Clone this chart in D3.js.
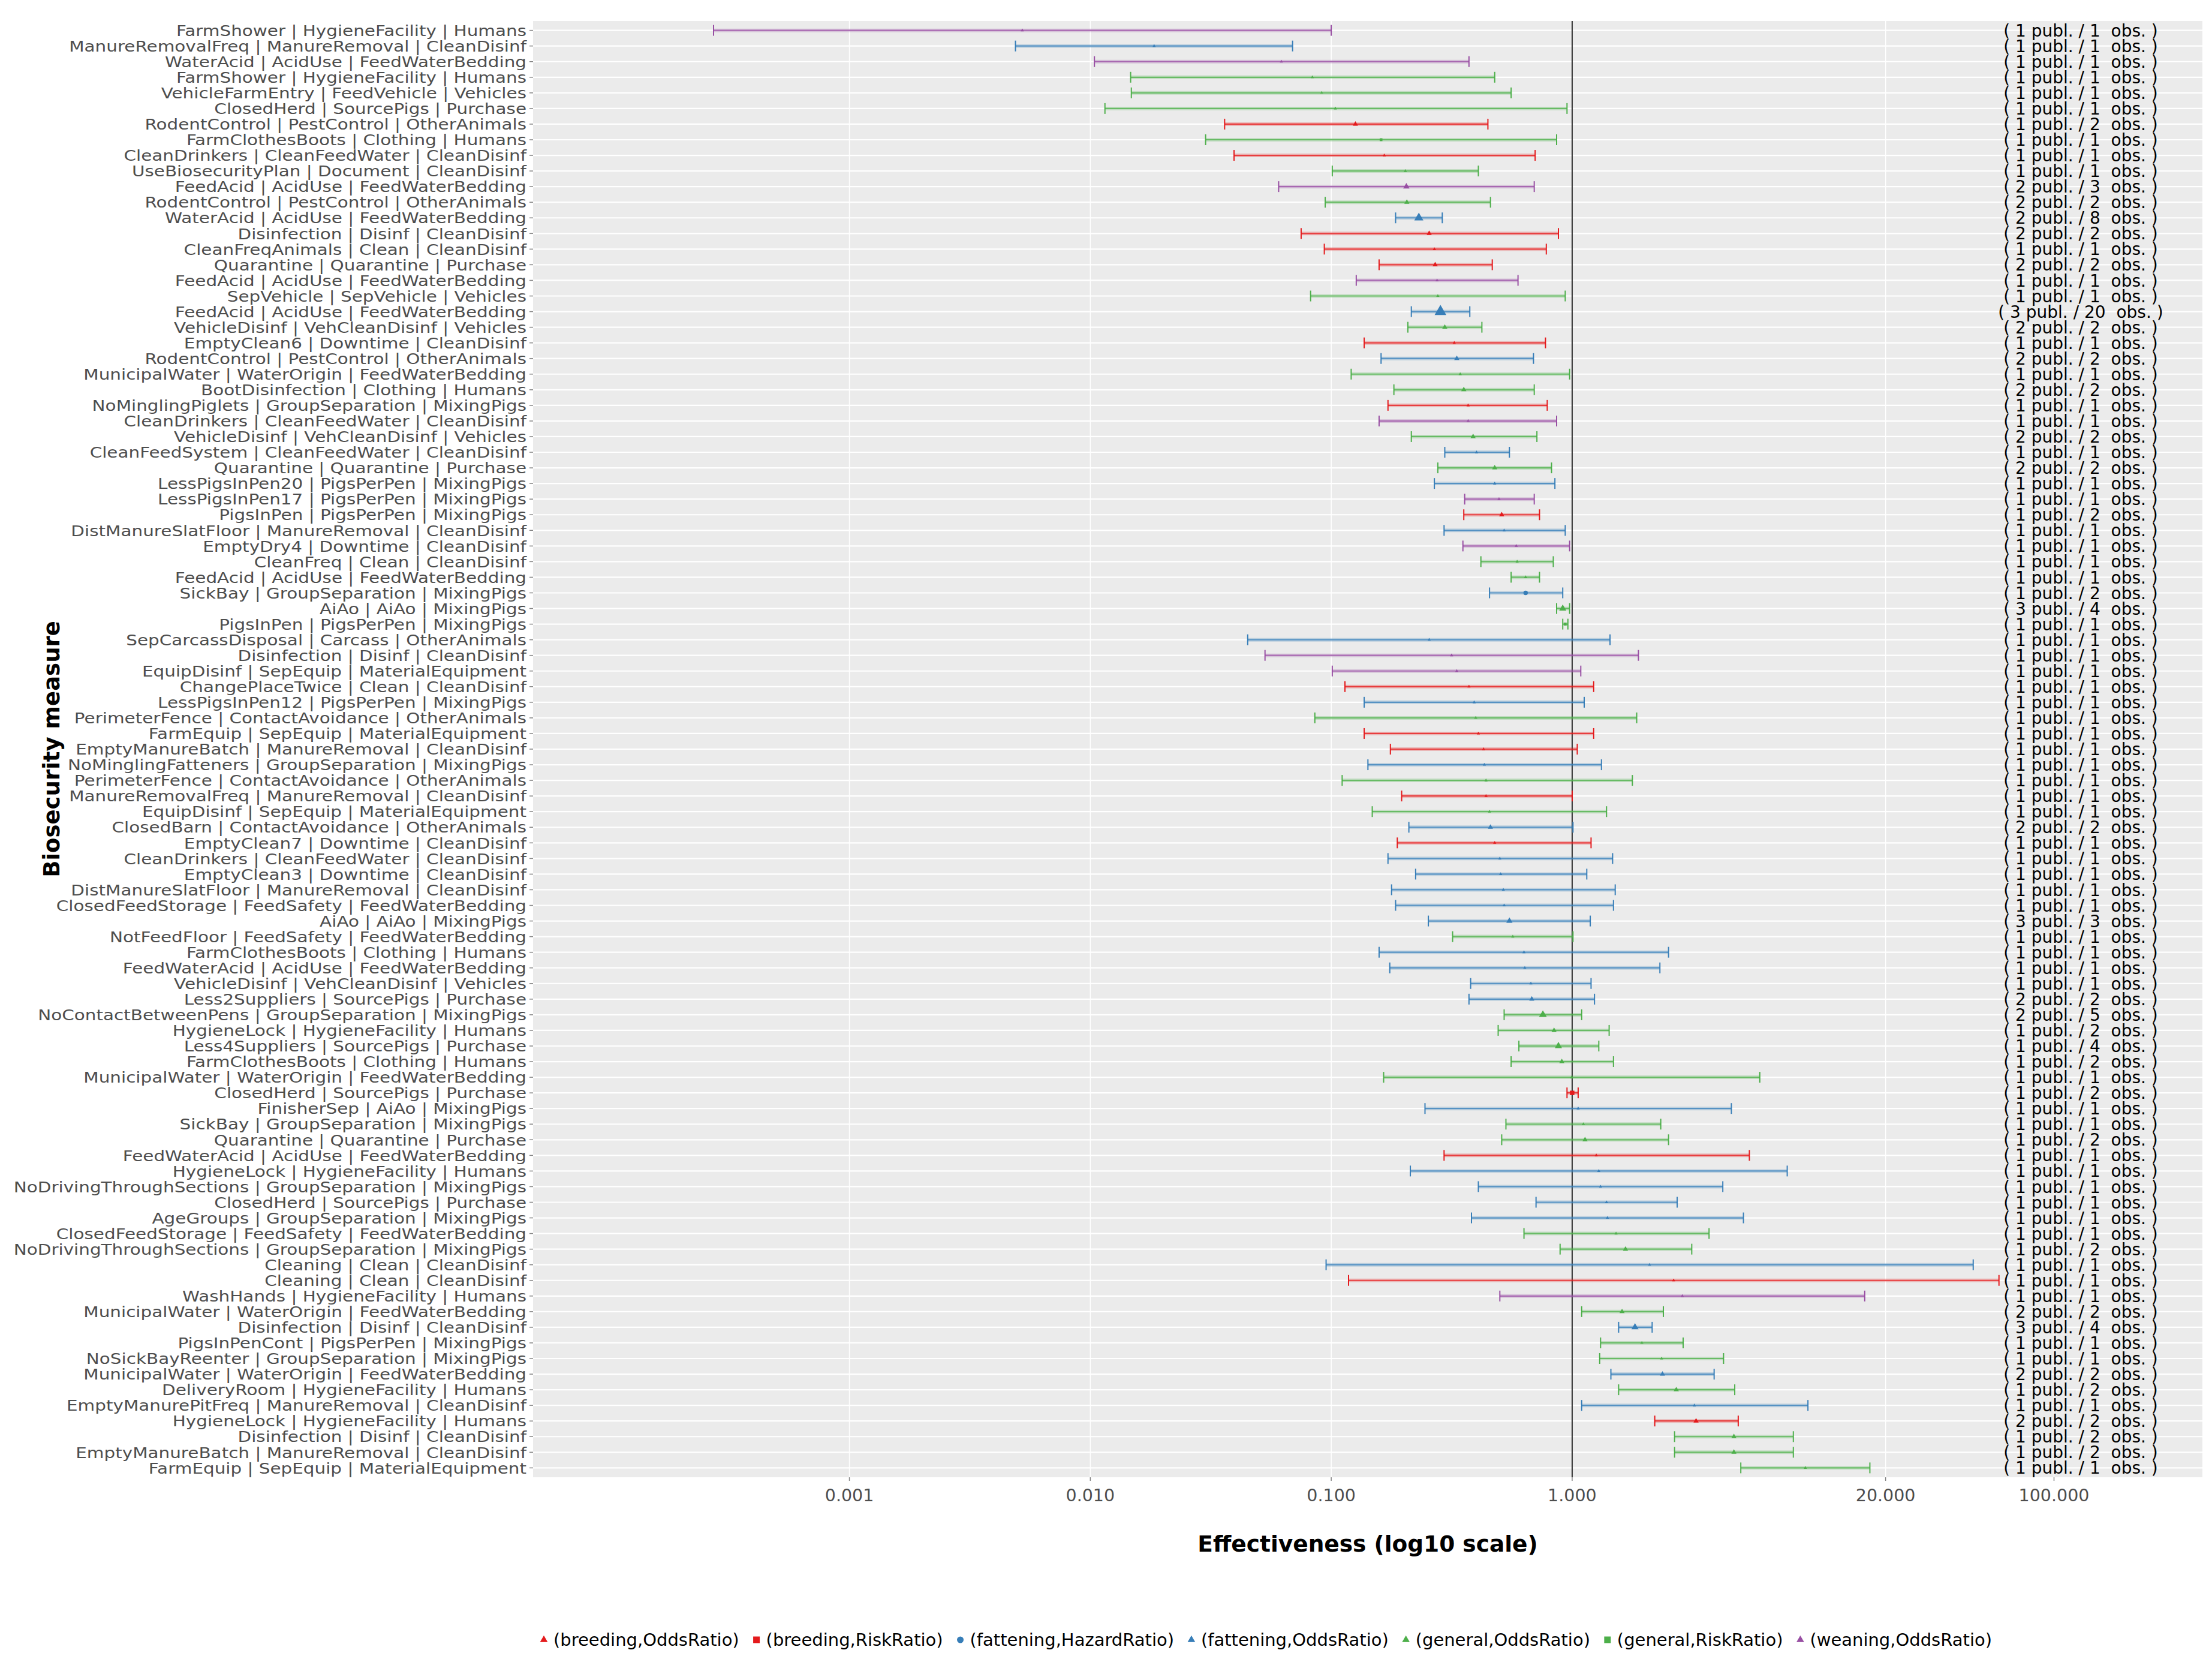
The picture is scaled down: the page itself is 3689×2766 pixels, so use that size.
<!DOCTYPE html>
<html>
<head>
<meta charset="utf-8">
<script src="https://cdn.jsdelivr.net/npm/d3@7"></script>
<style>
	body { margin: 0; background: #ffffff; }
	svg text { font-family: "DejaVu Sans", sans-serif; }
</style>
</head>
<body>
<div id="forestDiv"></div>
<script>

// rows, top to bottom
const measures = [
	"FarmShower | HygieneFacility | Humans",
	"ManureRemovalFreq | ManureRemoval | CleanDisinf",
	"WaterAcid | AcidUse | FeedWaterBedding",
	"FarmShower | HygieneFacility | Humans",
	"VehicleFarmEntry | FeedVehicle | Vehicles",
	"ClosedHerd | SourcePigs | Purchase",
	"RodentControl | PestControl | OtherAnimals",
	"FarmClothesBoots | Clothing | Humans",
	"CleanDrinkers | CleanFeedWater | CleanDisinf",
	"UseBiosecurityPlan | Document | CleanDisinf",
	"FeedAcid | AcidUse | FeedWaterBedding",
	"RodentControl | PestControl | OtherAnimals",
	"WaterAcid | AcidUse | FeedWaterBedding",
	"Disinfection | Disinf | CleanDisinf",
	"CleanFreqAnimals | Clean | CleanDisinf",
	"Quarantine | Quarantine | Purchase",
	"FeedAcid | AcidUse | FeedWaterBedding",
	"SepVehicle | SepVehicle | Vehicles",
	"FeedAcid | AcidUse | FeedWaterBedding",
	"VehicleDisinf | VehCleanDisinf | Vehicles",
	"EmptyClean6 | Downtime | CleanDisinf",
	"RodentControl | PestControl | OtherAnimals",
	"MunicipalWater | WaterOrigin | FeedWaterBedding",
	"BootDisinfection | Clothing | Humans",
	"NoMinglingPiglets | GroupSeparation | MixingPigs",
	"CleanDrinkers | CleanFeedWater | CleanDisinf",
	"VehicleDisinf | VehCleanDisinf | Vehicles",
	"CleanFeedSystem | CleanFeedWater | CleanDisinf",
	"Quarantine | Quarantine | Purchase",
	"LessPigsInPen20 | PigsPerPen | MixingPigs",
	"LessPigsInPen17 | PigsPerPen | MixingPigs",
	"PigsInPen | PigsPerPen | MixingPigs",
	"DistManureSlatFloor | ManureRemoval | CleanDisinf",
	"EmptyDry4 | Downtime | CleanDisinf",
	"CleanFreq | Clean | CleanDisinf",
	"FeedAcid | AcidUse | FeedWaterBedding",
	"SickBay | GroupSeparation | MixingPigs",
	"AiAo | AiAo | MixingPigs",
	"PigsInPen | PigsPerPen | MixingPigs",
	"SepCarcassDisposal | Carcass | OtherAnimals",
	"Disinfection | Disinf | CleanDisinf",
	"EquipDisinf | SepEquip | MaterialEquipment",
	"ChangePlaceTwice | Clean | CleanDisinf",
	"LessPigsInPen12 | PigsPerPen | MixingPigs",
	"PerimeterFence | ContactAvoidance | OtherAnimals",
	"FarmEquip | SepEquip | MaterialEquipment",
	"EmptyManureBatch | ManureRemoval | CleanDisinf",
	"NoMinglingFatteners | GroupSeparation | MixingPigs",
	"PerimeterFence | ContactAvoidance | OtherAnimals",
	"ManureRemovalFreq | ManureRemoval | CleanDisinf",
	"EquipDisinf | SepEquip | MaterialEquipment",
	"ClosedBarn | ContactAvoidance | OtherAnimals",
	"EmptyClean7 | Downtime | CleanDisinf",
	"CleanDrinkers | CleanFeedWater | CleanDisinf",
	"EmptyClean3 | Downtime | CleanDisinf",
	"DistManureSlatFloor | ManureRemoval | CleanDisinf",
	"ClosedFeedStorage | FeedSafety | FeedWaterBedding",
	"AiAo | AiAo | MixingPigs",
	"NotFeedFloor | FeedSafety | FeedWaterBedding",
	"FarmClothesBoots | Clothing | Humans",
	"FeedWaterAcid | AcidUse | FeedWaterBedding",
	"VehicleDisinf | VehCleanDisinf | Vehicles",
	"Less2Suppliers | SourcePigs | Purchase",
	"NoContactBetweenPens | GroupSeparation | MixingPigs",
	"HygieneLock | HygieneFacility | Humans",
	"Less4Suppliers | SourcePigs | Purchase",
	"FarmClothesBoots | Clothing | Humans",
	"MunicipalWater | WaterOrigin | FeedWaterBedding",
	"ClosedHerd | SourcePigs | Purchase",
	"FinisherSep | AiAo | MixingPigs",
	"SickBay | GroupSeparation | MixingPigs",
	"Quarantine | Quarantine | Purchase",
	"FeedWaterAcid | AcidUse | FeedWaterBedding",
	"HygieneLock | HygieneFacility | Humans",
	"NoDrivingThroughSections | GroupSeparation | MixingPigs",
	"ClosedHerd | SourcePigs | Purchase",
	"AgeGroups | GroupSeparation | MixingPigs",
	"ClosedFeedStorage | FeedSafety | FeedWaterBedding",
	"NoDrivingThroughSections | GroupSeparation | MixingPigs",
	"Cleaning | Clean | CleanDisinf",
	"Cleaning | Clean | CleanDisinf",
	"WashHands | HygieneFacility | Humans",
	"MunicipalWater | WaterOrigin | FeedWaterBedding",
	"Disinfection | Disinf | CleanDisinf",
	"PigsInPenCont | PigsPerPen | MixingPigs",
	"NoSickBayReenter | GroupSeparation | MixingPigs",
	"MunicipalWater | WaterOrigin | FeedWaterBedding",
	"DeliveryRoom | HygieneFacility | Humans",
	"EmptyManurePitFreq | ManureRemoval | CleanDisinf",
	"HygieneLock | HygieneFacility | Humans",
	"Disinfection | Disinf | CleanDisinf",
	"EmptyManureBatch | ManureRemoval | CleanDisinf",
	"FarmEquip | SepEquip | MaterialEquipment"
];

// (production stage, effect measure) of each row
const rowGroup = [
	"weaning,OddsRatio","fattening,OddsRatio","weaning,OddsRatio","general,OddsRatio","general,OddsRatio",
	"general,OddsRatio","breeding,OddsRatio","general,RiskRatio","breeding,OddsRatio","general,OddsRatio",
	"weaning,OddsRatio","general,OddsRatio","fattening,OddsRatio","breeding,OddsRatio","breeding,OddsRatio",
	"breeding,OddsRatio","weaning,OddsRatio","general,OddsRatio","fattening,OddsRatio","general,OddsRatio",
	"breeding,OddsRatio","fattening,OddsRatio","general,OddsRatio","general,OddsRatio","breeding,OddsRatio",
	"weaning,OddsRatio","general,OddsRatio","fattening,OddsRatio","general,OddsRatio","fattening,OddsRatio",
	"weaning,OddsRatio","breeding,OddsRatio","fattening,OddsRatio","weaning,OddsRatio","general,OddsRatio",
	"general,OddsRatio","fattening,HazardRatio","general,OddsRatio","general,RiskRatio","fattening,OddsRatio",
	"weaning,OddsRatio","weaning,OddsRatio","breeding,OddsRatio","fattening,OddsRatio","general,OddsRatio",
	"breeding,OddsRatio","breeding,OddsRatio","fattening,OddsRatio","general,OddsRatio","breeding,OddsRatio",
	"general,OddsRatio","fattening,OddsRatio","breeding,OddsRatio","fattening,OddsRatio","fattening,OddsRatio",
	"fattening,OddsRatio","fattening,OddsRatio","fattening,OddsRatio","general,OddsRatio","fattening,OddsRatio",
	"fattening,OddsRatio","fattening,OddsRatio","fattening,OddsRatio","general,OddsRatio","general,OddsRatio",
	"general,OddsRatio","general,OddsRatio","general,OddsRatio","breeding,RiskRatio","fattening,OddsRatio",
	"general,OddsRatio","general,OddsRatio","breeding,OddsRatio","fattening,OddsRatio","fattening,OddsRatio",
	"fattening,OddsRatio","fattening,OddsRatio","general,OddsRatio","general,OddsRatio","fattening,OddsRatio",
	"breeding,OddsRatio","weaning,OddsRatio","general,OddsRatio","fattening,OddsRatio","general,OddsRatio",
	"general,OddsRatio","fattening,OddsRatio","general,OddsRatio","fattening,OddsRatio","breeding,OddsRatio",
	"general,OddsRatio","general,OddsRatio","general,OddsRatio"
];

const lowerCI = [
	0.000273,0.00489,0.0104,0.0147,0.0148,0.0115,0.0361,0.0301,0.0395,0.101,
	0.0605,0.0944,0.185,0.0750,0.0936,0.158,0.127,0.0821,0.215,0.208,
	0.137,0.161,0.121,0.182,0.172,0.158,0.215,0.296,0.277,0.268,
	0.358,0.355,0.294,0.352,0.418,0.558,0.454,0.862,0.914,0.0450,
	0.0531,0.101,0.114,0.137,0.0855,0.137,0.176,0.142,0.111,0.196,
	0.148,0.210,0.188,0.172,0.224,0.178,0.185,0.253,0.319,0.158,
	0.175,0.379,0.373,0.522,0.493,0.601,0.558,0.165,0.952,0.245,
	0.531,0.510,0.294,0.213,0.408,0.708,0.382,0.631,0.891,0.0952,
	0.118,0.501,1.095,1.559,1.312,1.301,1.448,1.559,1.095,2.202,
	2.661,2.661,5.012
];

const estimates = [
	0.00522,0.0184,0.0621,0.0835,0.0913,0.104,0.126,0.161,0.166,0.203,
	0.205,0.206,0.231,0.255,0.268,0.270,0.275,0.277,0.284,0.296,
	0.324,0.332,0.343,0.355,0.370,0.370,0.388,0.401,0.477,0.477,
	0.497,0.510,0.522,0.586,0.591,0.641,0.641,0.914,0.936,0.255,
	0.316,0.332,0.373,0.392,0.398,0.408,0.429,0.432,0.439,0.439,
	0.454,0.458,0.477,0.501,0.505,0.518,0.522,0.549,0.567,0.631,
	0.636,0.674,0.680,0.756,0.841,0.877,0.906,0.995,1.00,1.059,
	1.113,1.131,1.259,1.290,1.312,1.389,1.401,1.521,1.665,2.096,
	2.638,2.865,1.611,1.823,1.947,2.352,2.371,2.705,3.215,3.268,
	4.692,4.692,9.288
];

const upperCI = [
	0.100,0.0691,0.373,0.477,0.558,0.952,0.447,0.862,0.702,0.408,
	0.696,0.458,0.289,0.877,0.781,0.466,0.596,0.936,0.376,0.422,
	0.775,0.691,0.976,0.696,0.788,0.862,0.714,0.549,0.821,0.848,
	0.696,0.732,0.936,0.976,0.835,0.732,0.914,0.976,0.960,1.436,
	1.884,1.086,1.228,1.122,1.853,1.228,1.050,1.323,1.778,1.000,
	1.389,1.008,1.198,1.472,1.150,1.509,1.484,1.189,1.008,2.512,
	2.313,1.198,1.238,1.095,1.424,1.290,1.484,6.01,1.059,4.58,
	2.332,2.512,5.44,7.81,4.22,2.728,5.14,3.70,3.136,46.2,
	59.1,16.38,2.391,2.148,2.888,4.25,3.884,4.73,9.52,4.89,
	8.28,8.28,17.21
];

const nPubl = [
	1,1,1,1,1,1,1,1,1,1, 2,2,2,2,1,2,1,1,3,2,
	1,2,1,2,1,1,2,1,2,1, 1,1,1,1,1,1,1,3,1,1,
	1,1,1,1,1,1,1,1,1,1, 1,2,1,1,1,1,1,3,1,1,
	1,1,2,2,1,1,1,1,1,1, 1,1,1,1,1,1,1,1,1,1,
	1,1,2,3,1,1,2,1,1,2, 1,1,1
];

const nObs = [
	1,1,1,1,1,1,2,1,1,1, 3,2,8,2,1,2,1,1,20,2,
	1,2,1,2,1,1,2,1,2,1, 1,2,1,1,1,1,2,4,1,1,
	1,1,1,1,1,1,1,1,1,1, 1,2,1,1,1,1,1,3,1,1,
	1,1,2,5,2,4,2,1,2,1, 1,2,1,1,1,1,1,1,2,1,
	1,1,2,4,1,1,2,2,1,2, 2,2,1
];

const xTickVals = [0.001, 0.01, 0.1, 1, 20, 100];
const xTickLabels = ["0.001", "0.010", "0.100", "1.000", "20.000", "100.000"];

const legendKeys = ["breeding,OddsRatio", "breeding,RiskRatio", "fattening,HazardRatio",
	"fattening,OddsRatio", "general,OddsRatio", "general,RiskRatio", "weaning,OddsRatio"];
const legendColors = ["#E41A1C", "#E41A1C", "#377EB8", "#377EB8", "#4DAF4A", "#4DAF4A", "#984EA3"];

const chartObj = {
	parentDivID: 'forestDiv',
	width: 3689,
	height: 2766,
	panel: { left: 889, right: 3673, top: 35, bottom: 2463 },
	xDomainLog: [-4.313, 2.616],
	annotX: 129
};

function shapeOf(key){
	if(key.endsWith('RiskRatio')) return 'square';
	if(key.endsWith('HazardRatio')) return 'circle';
	return 'triangle';
}

// marker height grows with number of observations
function markerHeight(obs){
	return 4.6 + 4.1 * Math.log(obs);
}

function symbolPath(shape, h){
	if(shape === 'square') return d3.symbol(d3.symbolSquare, h * h)();
	if(shape === 'circle') return d3.symbol(d3.symbolCircle, Math.PI * h * h / 4)();
	return d3.symbol(d3.symbolTriangle, h * h / Math.sqrt(3))();
}

function buildChart(obj){
	const p = obj.panel;
	const svg = d3.select('#' + obj.parentDivID).append('svg')
		.attr('width', obj.width)
		.attr('height', obj.height);

	const xScale = d3.scaleLog()
		.domain(obj.xDomainLog.map(v => Math.pow(10, v)))
		.range([p.left, p.right]);

	const yScale = d3.scalePoint()
		.domain(d3.range(measures.length))
		.range([p.top, p.bottom])
		.padding(0.6);

	const colorScale = d3.scaleOrdinal().domain(legendKeys).range(legendColors);

	const rows = measures.map((m, i) => ({
		i, label: m, grp: rowGroup[i],
		lo: lowerCI[i], est: estimates[i], hi: upperCI[i],
		publ: nPubl[i], obs: nObs[i]
	}));

	// panel
	svg.append('rect')
		.attr('x', p.left).attr('y', p.top)
		.attr('width', p.right - p.left).attr('height', p.bottom - p.top)
		.attr('fill', '#EBEBEB');

	const grid = svg.append('g').attr('class', 'grid');
	grid.selectAll('line.gx')
		.data(xTickVals)
		.enter().append('line')
		.attr('class', 'gx')
		.attr('x1', d => xScale(d)).attr('x2', d => xScale(d))
		.attr('y1', p.top).attr('y2', p.bottom)
		.attr('stroke', '#ffffff').attr('stroke-width', 1.5);
	grid.selectAll('line.gy')
		.data(rows)
		.enter().append('line')
		.attr('class', 'gy')
		.attr('x1', p.left).attr('x2', p.right)
		.attr('y1', d => yScale(d.i)).attr('y2', d => yScale(d.i))
		.attr('stroke', '#ffffff').attr('stroke-width', 2.2);

	// reference line at 1
	svg.append('line')
		.attr('x1', xScale(1)).attr('x2', xScale(1))
		.attr('y1', p.top).attr('y2', p.bottom)
		.attr('stroke', '#333333').attr('stroke-width', 2);

	// error bars
	const bars = svg.append('g').attr('class', 'bars')
		.selectAll('g')
		.data(rows)
		.enter().append('g')
		.attr('transform', d => `translate(0,${yScale(d.i)})`);

	bars.append('line')
		.attr('x1', d => xScale(d.lo)).attr('x2', d => xScale(d.hi))
		.attr('stroke', d => colorScale(d.grp))
		.attr('stroke-width', 6).attr('stroke-opacity', 0.25);
	bars.append('line')
		.attr('x1', d => xScale(d.lo)).attr('x2', d => xScale(d.hi))
		.attr('stroke', d => colorScale(d.grp))
		.attr('stroke-width', 2.2).attr('stroke-opacity', 0.8);
	['lo', 'hi'].forEach(k => {
		bars.append('line')
			.attr('x1', d => xScale(d[k])).attr('x2', d => xScale(d[k]))
			.attr('y1', -9).attr('y2', 9)
			.attr('stroke', d => colorScale(d.grp))
			.attr('stroke-width', 2);
	});
	bars.append('path')
		.attr('transform', d => `translate(${xScale(d.est)},0)`)
		.attr('d', d => symbolPath(shapeOf(d.grp), markerHeight(d.obs)))
		.attr('fill', d => colorScale(d.grp));

	// publication / observation counts
	svg.append('g').attr('class', 'counts')
		.selectAll('text')
		.data(rows)
		.enter().append('text')
		.attr('x', xScale(obj.annotX))
		.attr('y', d => yScale(d.i))
		.attr('dy', '0.36em')
		.attr('text-anchor', 'middle')
		.style('white-space', 'pre')
		.style('font-size', '28px')
		.attr('fill', '#000000')
		.text(d => `( ${d.publ} publ. / ${d.obs}  obs. )`);

	// y axis; labels are a little stretched sideways so rows of text don't collide
	const yAxisG = svg.append('g').attr('class', 'yAxis');
	yAxisG.selectAll('line')
		.data(rows)
		.enter().append('line')
		.attr('x1', p.left - 6).attr('x2', p.left)
		.attr('y1', d => yScale(d.i)).attr('y2', d => yScale(d.i))
		.attr('stroke', '#333333').attr('stroke-opacity', 0.6).attr('stroke-width', 1.5);
	yAxisG.selectAll('text')
		.data(rows)
		.enter().append('text')
		.attr('transform', d => `translate(${p.left - 11},${yScale(d.i)}) scale(1.15,1)`)
		.attr('dy', '0.36em')
		.attr('text-anchor', 'end')
		.style('font-size', '25.6px')
		.attr('fill', '#4D4D4D')
		.text(d => d.label);

	// x axis
	const xAxisG = svg.append('g').attr('class', 'xAxis');
	xAxisG.selectAll('line')
		.data(xTickVals)
		.enter().append('line')
		.attr('x1', d => xScale(d)).attr('x2', d => xScale(d))
		.attr('y1', p.bottom).attr('y2', p.bottom + 6)
		.attr('stroke', '#333333').attr('stroke-opacity', 0.6).attr('stroke-width', 1.5);
	xAxisG.selectAll('text')
		.data(xTickVals)
		.enter().append('text')
		.attr('x', d => xScale(d))
		.attr('y', 2493)
		.attr('dy', '0.36em')
		.attr('text-anchor', 'middle')
		.style('font-size', '28.5px')
		.attr('fill', '#4D4D4D')
		.text((d, i) => xTickLabels[i]);

	// titles
	svg.append('text')
		.attr('x', (p.left + p.right) / 2).attr('y', 2573)
		.attr('dy', '0.36em')
		.attr('text-anchor', 'middle')
		.style('font-size', '37.5px').style('font-weight', 'bold')
		.text('Effectiveness (log10 scale)');
	svg.append('text')
		.attr('transform', `translate(86,${(p.top + p.bottom) / 2}) rotate(-90)`)
		.attr('dy', '0.36em')
		.attr('text-anchor', 'middle')
		.style('font-size', '37px').style('font-weight', 'bold')
		.text('Biosecurity measure');

	buildLegend(svg, colorScale);
}

function buildLegend(svg, colorScale){
	const legY = 2734, startX = 907, endX = 3322, textOff = 16;
	const legG = svg.append('g').attr('class', 'legend');
	const items = legendKeys.map(k => {
		const g = legG.append('g');
		g.append('path')
			.attr('d', symbolPath(shapeOf(k), 11))
			.attr('fill', colorScale(k));
		const t = g.append('text')
			.attr('x', textOff)
			.attr('dy', '0.36em')
			.style('font-size', '29px')
			.attr('fill', '#000000')
			.text('(' + k + ')');
		return { g, w: t.node().getComputedTextLength() };
	});
	const totalText = d3.sum(items, d => d.w);
	const gap = (endX - startX - items.length * textOff - totalText) / (items.length - 1);
	let x = startX;
	items.forEach(it => {
		it.g.attr('transform', `translate(${x},${legY})`);
		x += textOff + it.w + gap;
	});
}

buildChart(chartObj);
</script>
</body>
</html>
